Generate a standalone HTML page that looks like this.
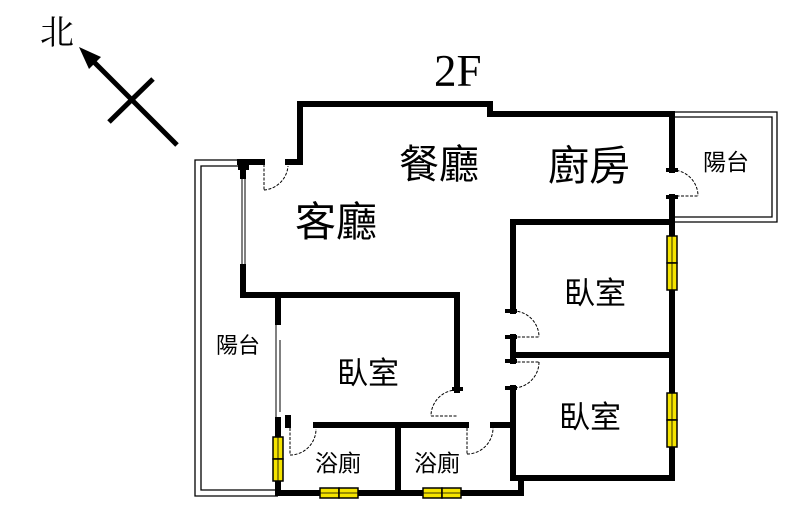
<!DOCTYPE html>
<html><head><meta charset="utf-8"><style>
html,body{margin:0;padding:0;background:#fff;}
svg{display:block;}
text{font-family:"Liberation Sans","Noto Sans CJK TC",sans-serif;fill:#000;}
</style></head><body>
<svg width="800" height="517" viewBox="0 0 800 517" xmlns="http://www.w3.org/2000/svg">
<!-- north arrow -->
<text x="40" y="44" font-size="34" style="font-family:'Liberation Serif','Noto Serif CJK SC',serif">北</text>
<line x1="177" y1="145" x2="90" y2="58" stroke="#000" stroke-width="5"/>
<polygon points="79,47 101,57 89,69" fill="#000"/>
<line x1="109" y1="122" x2="153" y2="79" stroke="#000" stroke-width="5"/>
<text x="434" y="86" font-size="45" style="font-family:'Liberation Serif',serif">2F</text>

<!-- balconies thin double lines -->
<g fill="none" stroke="#000" stroke-width="1.3">
<polyline points="240,160 195,160 195,496 278,496"/>
<polyline points="240,166 201,166 201,490 278,490"/>
<polyline points="672,112 777,112 777,222 672,222"/>
<polyline points="672,117 772,117 772,217 672,217"/>
</g>

<!-- thick walls -->
<g fill="none" stroke="#000" stroke-width="6" stroke-linecap="square">
<polyline points="288,162 300,162 300,104 490,104 490,114 672,114 672,170"/>
<line x1="240" y1="162" x2="262" y2="162"/>
<line x1="243" y1="162" x2="243" y2="176"/>
<polyline points="243,267 243,295 457,295 457,390"/>
<line x1="278" y1="295" x2="278" y2="322"/>
<line x1="278" y1="420" x2="278" y2="493"/>
<polyline points="278,493 521,493 521,478"/>
<line x1="316" y1="425" x2="466" y2="425"/>
<line x1="398" y1="425" x2="398" y2="493"/>
<line x1="493" y1="425" x2="513" y2="425"/>
<polyline points="513,311 513,222 672,222"/>
<line x1="513" y1="337" x2="513" y2="361"/>
<polyline points="513,388 513,478 672,478 672,197"/>
<line x1="513" y1="355" x2="672" y2="355"/>
<line x1="288" y1="418" x2="288" y2="425"/>
</g>
<!-- stubs -->
<g fill="#000">
<rect x="238" y="162" width="11" height="8"/>
<rect x="452" y="387" width="11" height="4"/>
<rect x="505" y="309" width="12" height="4"/>
<rect x="505" y="335" width="12" height="4"/>
<rect x="505" y="359" width="12" height="4"/>
<rect x="505" y="386" width="12" height="4"/>
<rect x="666" y="168" width="12" height="4"/>
<rect x="666" y="195" width="12" height="4"/>
</g>
<!-- windows thin -->
<g stroke="#000" stroke-width="1" fill="none">
<line x1="242" y1="176" x2="242" y2="267"/>
<line x1="245" y1="176" x2="245" y2="267"/>
<line x1="276" y1="322" x2="276" y2="420"/>
<line x1="280" y1="340" x2="280" y2="412"/>
</g>
<!-- doors -->
<g stroke="#000" stroke-width="1" fill="none" stroke-dasharray="3,1.5">
<line x1="264" y1="164" x2="264" y2="190"/><path d="M264,190 A26,26 0 0 0 288,166"/>
<path d="M457,390 A26,26 0 0 0 431,416 L431,416"/><line x1="431" y1="416" x2="457" y2="416"/>
<line x1="290" y1="428" x2="290" y2="455"/><path d="M290,455 A26,26 0 0 0 316,429"/>
<line x1="467" y1="428" x2="467" y2="454"/><path d="M467,454 A26,26 0 0 0 493,428"/>
<path d="M513,311 A26,26 0 0 1 539,337"/><line x1="513" y1="337" x2="539" y2="337"/>
<path d="M539,362 A26,26 0 0 1 513,388"/><line x1="513" y1="362" x2="539" y2="362"/>
<path d="M672,170 A26,26 0 0 1 698,196"/><line x1="672" y1="196" x2="698" y2="196"/>
</g>
<!-- yellow windows -->
<g fill="#f5e400" stroke="#000" stroke-width="1.5">
<rect x="273" y="437" width="10" height="22"/>
<rect x="273" y="459" width="10" height="22"/>
<rect x="320" y="488" width="19" height="10"/>
<rect x="339" y="488" width="19" height="10"/>
<rect x="423" y="488" width="19" height="10"/>
<rect x="442" y="488" width="19" height="10"/>
<rect x="667" y="236" width="10" height="27"/>
<rect x="667" y="263" width="10" height="27"/>
<rect x="667" y="393" width="10" height="27"/>
<rect x="667" y="420" width="10" height="27"/>
</g>
<g stroke="#000" stroke-width="0.8">
<line x1="278" y1="437" x2="278" y2="481"/>
<line x1="320" y1="493" x2="358" y2="493"/>
<line x1="423" y1="493" x2="461" y2="493"/>
<line x1="672" y1="236" x2="672" y2="290"/>
<line x1="672" y1="393" x2="672" y2="447"/>
</g>
<!-- labels -->
<text x="399" y="178" font-size="40">餐廳</text>
<text x="548" y="180" font-size="41">廚房</text>
<text x="295" y="236" font-size="41">客廳</text>
<text x="564" y="304" font-size="31">臥室</text>
<text x="337" y="384" font-size="31">臥室</text>
<text x="559" y="428" font-size="31">臥室</text>
<text x="315" y="471" font-size="23">浴廁</text>
<text x="414" y="471" font-size="23">浴廁</text>
<text x="216" y="353" font-size="22">陽台</text>
<text x="703" y="170" font-size="23">陽台</text>
</svg>
</body></html>
